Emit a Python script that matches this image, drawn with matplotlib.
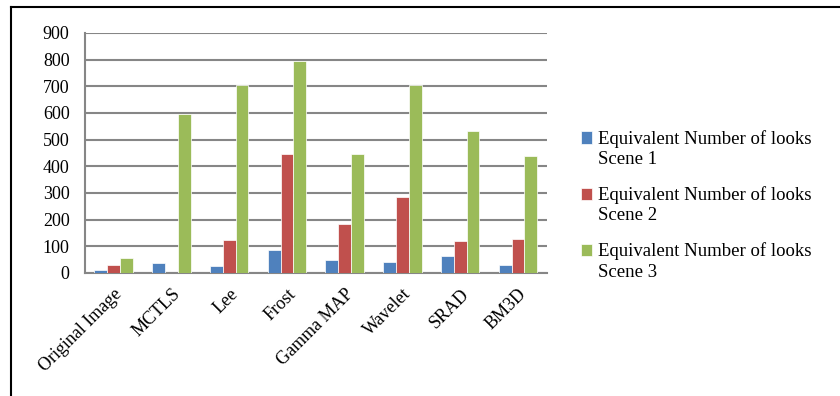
import matplotlib
matplotlib.use('Agg')
import matplotlib.pyplot as plt
import numpy as np
from matplotlib.lines import Line2D
from matplotlib.legend_handler import HandlerPatch

categories = ["Original Image", "MCTLS", "Lee", "Frost", "Gamma MAP", "Wavelet", "SRAD", "BM3D"]
scene1 = [11, 38, 24, 84, 50, 41, 65, 29]
scene2 = [30, 0, 124, 444, 185, 284, 119, 127]
scene3 = [57, 594, 706, 794, 446, 706, 531, 438]
series_labels = ["Equivalent Number of looks\nScene 1",
                 "Equivalent Number of looks\nScene 2",
                 "Equivalent Number of looks\nScene 3"]
colors = ['#4F81BD', '#C0504D', '#9BBB59']

plt.rcParams['font.family'] = ['Liberation Serif', 'DejaVu Serif']


class TopPatchHandler(HandlerPatch):
    # put the legend key next to the first line of a two-line label
    def create_artists(self, legend, orig_handle, xdescent, ydescent, width, height,
                       fontsize, trans):
        return super().create_artists(legend, orig_handle, xdescent, ydescent - 0.62 * fontsize,
                                      width, height, fontsize, trans)


fig = plt.figure(figsize=(8.4, 3.96), dpi=100)
ax = fig.add_axes([0.101, 0.311, 0.55, 0.606])

x = np.arange(len(categories))
w = 0.222
bars = []
for i, (vals, c, lab) in enumerate(zip([scene1, scene2, scene3], colors, series_labels)):
    b = ax.bar(x + (i - 1) * w, vals, width=w, color=c, edgecolor='white', linewidth=0.5,
               label=lab, zorder=3)
    bars.append(b)

ax.set_xlim(-0.5, len(categories) - 0.5)
ax.set_ylim(0, 900)
ax.set_yticks(range(0, 901, 100))
ax.yaxis.grid(True, color='#868686', linewidth=1.5, zorder=0)
ax.set_axisbelow(True)
for s in ['top', 'right']:
    ax.spines[s].set_visible(False)
for s in ['left', 'bottom']:
    ax.spines[s].set_color('#868686')
    ax.spines[s].set_linewidth(1.5)
ax.tick_params(axis='both', length=0, labelsize=13, colors='black')
ax.tick_params(axis='y', pad=11)
ax.tick_params(axis='x', pad=9)
ax.set_xticks(x)
ax.set_xticklabels(categories, rotation=45, ha='right', rotation_mode='anchor')

handler = TopPatchHandler()
leg = fig.legend(handles=[b[0] for b in bars], labels=series_labels,
                 loc='upper left', bbox_to_anchor=(0.680, 0.695), frameon=False, fontsize=13.5,
                 handlelength=0.62, handleheight=0.62, handletextpad=0.3, labelspacing=0.96,
                 borderpad=0, handler_map={matplotlib.patches.Rectangle: handler})
for t in leg.get_texts():
    t.set_linespacing(1.25)

# outer frame (top and left edges only visible)
fig.add_artist(Line2D([0.013, 1.0], [0.983, 0.983], color='black', linewidth=1.5,
                      transform=fig.transFigure))
fig.add_artist(Line2D([0.013, 0.013], [0.0, 0.983], color='black', linewidth=1.5,
                      transform=fig.transFigure))

plt.savefig('out.png', dpi=100)
plt.close()
